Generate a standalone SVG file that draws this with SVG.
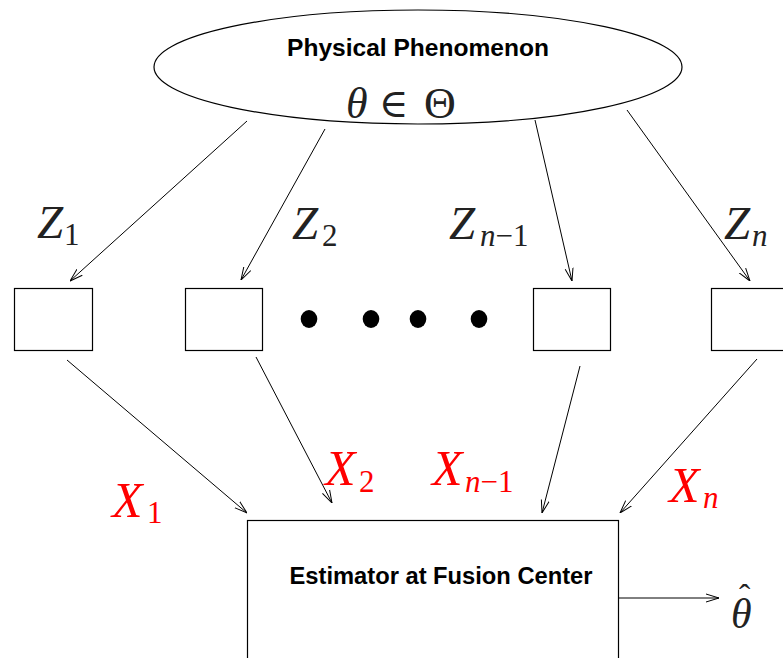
<svg xmlns="http://www.w3.org/2000/svg" width="783" height="658" viewBox="0 0 783 658">
<defs>
<style>
.box{fill:#fff;stroke:#000;stroke-width:1.2}
.edge{fill:none;stroke:#000;stroke-width:1}
.lbl{font-family:"Liberation Sans",Arial,sans-serif;font-weight:bold;font-size:23px;fill:#000;text-anchor:middle}
.math{font-family:"Liberation Serif","Times New Roman",serif;font-style:italic;fill:#222}
.red{fill:#f00}
.bigz{font-size:47px}
.bigx{font-size:50px}
.sub{font-size:31px;font-style:normal}
.subi{font-size:31px;font-style:italic}
</style>
<marker id="arr" viewBox="0 0 13 10" refX="13" refY="5" markerWidth="13" markerHeight="10" markerUnits="userSpaceOnUse" orient="auto">
<path d="M0,1 L13,5 L0,9" fill="none" stroke="#000" stroke-width="1"/>
</marker>
</defs>
<rect width="783" height="658" fill="#fff"/>

<g id="phenomenon">
<ellipse cx="418" cy="67" rx="264" ry="57" class="box"/>
<text x="418" y="56" class="lbl" textLength="262" lengthAdjust="spacingAndGlyphs">Physical Phenomenon</text>
<text x="346" y="118" font-family="Liberation Serif,serif" font-size="44" fill="#222"><tspan font-style="italic">θ</tspan><tspan x="379" font-family="DejaVu Serif,serif" font-size="40" dy="-1">∈</tspan><tspan x="424" dy="1">Θ</tspan></text>
</g>

<g id="sensor1"><rect x="14.5" y="288.5" width="78" height="62" class="box"/></g>
<g id="sensor2"><rect x="185.5" y="288.5" width="77" height="62" class="box"/></g>
<g id="sensor3"><rect x="533.5" y="288.5" width="77" height="62" class="box"/></g>
<g id="sensor4"><rect x="711.5" y="288.5" width="80" height="62" class="box"/></g>

<g id="dots" fill="#000">
<ellipse cx="309" cy="319" rx="8.3" ry="9"/>
<ellipse cx="371" cy="319" rx="8.3" ry="9"/>
<ellipse cx="418" cy="319" rx="8.3" ry="9"/>
<ellipse cx="479" cy="319" rx="8.3" ry="9"/>
</g>

<g id="fusion">
<rect x="247.5" y="520.5" width="371" height="150" class="box"/>
<text x="441" y="584" class="lbl" textLength="303" lengthAdjust="spacingAndGlyphs">Estimator at Fusion Center</text>
</g>

<g id="connectors" class="edge">
<line x1="247" y1="121" x2="70" y2="281" marker-end="url(#arr)"/>
<line x1="325" y1="129" x2="241" y2="280" marker-end="url(#arr)"/>
<line x1="535" y1="120" x2="572" y2="281" marker-end="url(#arr)"/>
<line x1="627" y1="110" x2="750" y2="281" marker-end="url(#arr)"/>
<line x1="67" y1="360" x2="247" y2="513" marker-end="url(#arr)"/>
<line x1="256" y1="357" x2="332" y2="503" marker-end="url(#arr)"/>
<line x1="580" y1="366" x2="542" y2="513" marker-end="url(#arr)"/>
<line x1="757" y1="359" x2="620" y2="513" marker-end="url(#arr)"/>
<line x1="619" y1="598" x2="719" y2="598" marker-end="url(#arr)"/>
</g>

<g id="labels-z" class="math">
<text x="37" y="238" class="bigz">Z<tspan x="64" y="245" class="sub">1</tspan></text>
<text x="292" y="239" class="bigz">Z<tspan x="322" y="246" class="sub">2</tspan></text>
<text x="449" y="239" class="bigz">Z<tspan x="480" y="246" class="subi">n</tspan><tspan class="sub">−1</tspan></text>
<text x="724" y="239" class="bigz">Z<tspan x="752" y="246" class="subi">n</tspan></text>
</g>

<g id="labels-x" class="math red">
<text x="112" y="517" class="bigx red">X<tspan x="147" y="523" class="sub">1</tspan></text>
<text x="325" y="485" class="bigx red">X<tspan x="359" y="492" class="sub">2</tspan></text>
<text x="432" y="485" class="bigx red">X<tspan x="465" y="492" class="subi">n</tspan><tspan class="sub">−1</tspan></text>
<text x="669" y="502" class="bigx red">X<tspan x="703" y="508" class="subi">n</tspan></text>
</g>

<g id="output" class="math">
<text x="731" y="628" font-size="42">θ<tspan x="739" y="608" font-size="34" font-style="normal">ˆ</tspan></text>
</g>
</svg>
